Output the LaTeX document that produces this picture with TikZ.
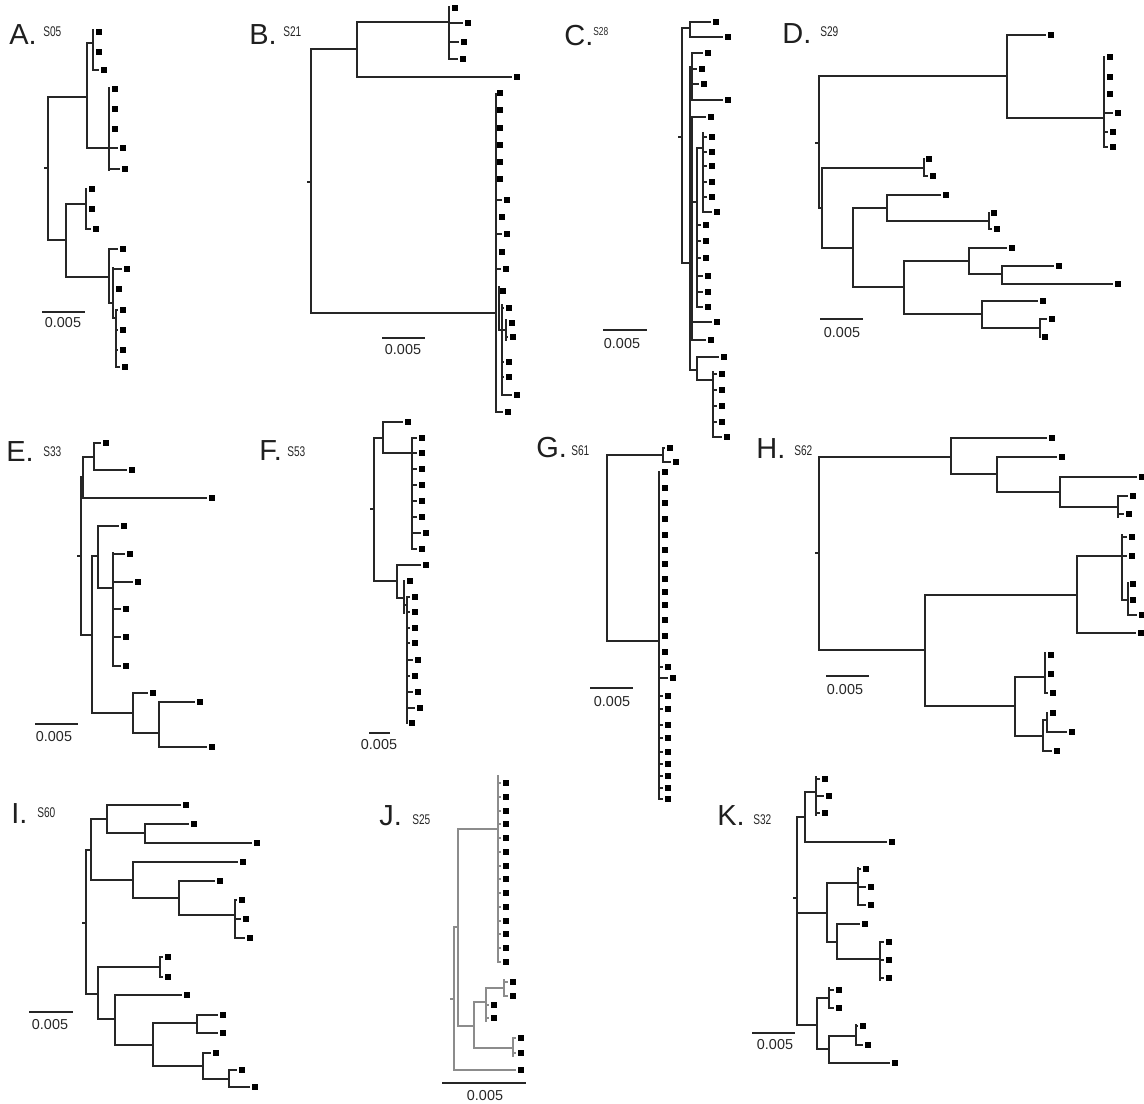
\documentclass[tikz,border=0pt]{standalone}
\usepackage{fontspec}
\setmainfont{Liberation Sans}
\usetikzlibrary{positioning}

% tree drawing helpers (picture units are pixels, y points down)
\newcommand{\cladebar}[3]{\draw[branch] (#1,#2) -- (#1,#3);}
\newcommand{\branchh}[3]{\draw[branch] (#1,#3) -- (#2,#3);}
\newcommand{\leaftip}[3]{\draw[branch] (#1,#3) -- ({max(#1,#2-6)},#3); \node[leaf] at (#2,#3) {};}
\newcommand{\rootstub}[2]{\draw[branch] (#1-3,#2) -- (#1,#2);}

\begin{document}
\begin{tikzpicture}[
		x=0.02cm, y=-0.02cm,
		branch/.style={line width=0.8pt, black!85, line cap=rect},
		leaf/.style={fill=black, inner sep=0pt, minimum size=3.3pt},
		scalebar/.style={line width=0.8pt, black!85},
		scaletext/.style={font=\fontsize{8.2}{9}\selectfont, anchor=base, text=black!85},
		panel/.style={font=\fontsize{16.5}{18}\selectfont, anchor=base west, inner sep=0pt, text=black!88},
		sample/.style={font=\fontsize{8}{9}\selectfont, anchor=base west, inner sep=0pt, text=black!85},
		]
		\useasboundingbox (0,0) rectangle (1144,1104);
		
		% A. S05
		\node[panel] (labA) at (9,45) {A.};
		\node[sample] (smpA) at (43,37) {\scalebox{0.72}[1]{S05}};
		\rootstub{48}{168}
		\cladebar{48}{97}{240}
		\branchh{48}{87}{97}
		\cladebar{87}{43}{148}
		\branchh{87}{93}{43}
		\cladebar{93}{30}{70}
		\leaftip{93}{99}{32} \leaftip{93}{99}{52} \leaftip{93}{104}{70}
		\branchh{87}{109}{148}
		\cladebar{109}{88}{170}
		\leaftip{109}{115}{89} \leaftip{109}{115}{109} \leaftip{109}{115}{129}
		\leaftip{109}{123}{148} \leaftip{109}{125}{169}
		\branchh{48}{66}{240}
		\cladebar{66}{204}{277}
		\branchh{66}{86}{204}
		\cladebar{86}{189}{229}
		\leaftip{86}{92}{189} \leaftip{86}{92}{209} \leaftip{86}{96}{229}
		\branchh{66}{109}{277}
		\cladebar{109}{249}{303}
		\leaftip{109}{123}{249}
		\branchh{109}{113}{303}
		\cladebar{113}{268}{318}
		\leaftip{113}{127}{269} \leaftip{113}{119}{289}
		\branchh{113}{116}{318}
		\cladebar{116}{310}{367}
		\foreach \y in {310,330,350} {\leaftip{116}{123}{\y}}
		\leaftip{116}{125}{367}
		\draw[scalebar] (42,312) -- (85,312);
		\node[scaletext] at (63,328) {0.005};
		
		% B. S21
		\node[panel] (labB) at (249,45) {B.};
		\node[sample] (smpB) at (283,37) {\scalebox{0.72}[1]{S21}};
		\rootstub{311}{182}
		\cladebar{311}{49}{313}
		\branchh{311}{357}{49}
		\cladebar{357}{22}{77}
		\branchh{357}{449}{22}
		\cladebar{449}{7}{59}
		\leaftip{449}{455}{8} \leaftip{449}{468}{23} \leaftip{449}{464}{42} \leaftip{449}{463}{59}
		\leaftip{357}{517}{77}
		\branchh{311}{496}{313}
		\cladebar{496}{94}{412}
		\foreach \y in {93,110,128,145,162,179} {\leaftip{496}{500}{\y}}
		\leaftip{496}{507}{200} \leaftip{496}{502}{217} \leaftip{496}{507}{234}
		\leaftip{496}{502}{252} \leaftip{496}{506}{269}
		\cladebar{499}{287}{330}
		\leaftip{499}{503}{291}
		\branchh{499}{502}{330}
		\cladebar{502}{305}{395}
		\leaftip{502}{509}{308} \leaftip{502}{509}{362} \leaftip{502}{509}{377} \leaftip{502}{517}{395}
		\branchh{502}{506}{330}
		\cladebar{506}{320}{340}
		\leaftip{506}{512}{323} \leaftip{506}{513}{337}
		\leaftip{496}{508}{412}
		\draw[scalebar] (382,338) -- (425,338);
		\node[scaletext] at (403,355) {0.005};
		
		% C. S28
		\node[panel] (labC) at (564,46) {C.};
		\node[sample, font=\fontsize{6.6}{7}\selectfont] (smpC) at (593,36) {\scalebox{0.72}[1]{S28}};
		\rootstub{682}{137}
		\cladebar{682}{28}{263}
		\branchh{682}{690}{28}
		\cladebar{690}{22}{37}
		\leaftip{690}{716}{22} \leaftip{690}{728}{37}
		\branchh{682}{690}{263}
		\cladebar{690}{67}{370}
		\branchh{690}{692}{67}
		\cladebar{692}{53}{100}
		\leaftip{692}{708}{53} \leaftip{692}{702}{69} \leaftip{692}{704}{84} \leaftip{692}{728}{100}
		\cladebar{692}{117}{340}
		\leaftip{692}{711}{117}
		\branchh{692}{697}{202}
		\cladebar{697}{148}{307}
		\branchh{697}{703}{148}
		\cladebar{703}{133}{212}
		\foreach \y in {137,152,166,182,197} {\leaftip{703}{712}{\y}}
		\leaftip{703}{717}{212}
		\foreach \y in {225,241,258} {\leaftip{697}{706}{\y}}
		\foreach \y in {276,292,307} {\leaftip{697}{708}{\y}}
		\leaftip{692}{717}{322} \leaftip{692}{711}{340}
		\branchh{690}{697}{370}
		\cladebar{697}{357}{380}
		\leaftip{697}{724}{357}
		\branchh{697}{713}{380}
		\cladebar{713}{372}{437}
		\foreach \y in {374,390,406,422} {\leaftip{713}{722}{\y}}
		\leaftip{713}{727}{437}
		\draw[scalebar] (603,330) -- (647,330);
		\node[scaletext] at (622,349) {0.005};
		
		% D. S29
		\node[panel] (labD) at (782,44) {D.};
		\node[sample] (smpD) at (820,37) {\scalebox{0.72}[1]{S29}};
		\rootstub{819}{143}
		\cladebar{819}{76}{208}
		\branchh{819}{1007}{76}
		\cladebar{1007}{35}{118}
		\leaftip{1007}{1051}{35}
		\branchh{1007}{1104}{118}
		\cladebar{1104}{57}{147}
		\foreach \y in {57,77,94} {\leaftip{1104}{1110}{\y}}
		\leaftip{1104}{1118}{113} \leaftip{1104}{1113}{132} \leaftip{1104}{1113}{147}
		\branchh{819}{822}{208}
		\cladebar{822}{168}{248}
		\branchh{822}{924}{168}
		\cladebar{924}{159}{176}
		\leaftip{924}{929}{159} \leaftip{924}{933}{176}
		\branchh{822}{853}{248}
		\cladebar{853}{208}{287}
		\branchh{853}{887}{208}
		\cladebar{887}{195}{221}
		\leaftip{887}{946}{195}
		\branchh{887}{989}{221}
		\cladebar{989}{213}{229}
		\leaftip{989}{994}{213} \leaftip{989}{997}{229}
		\branchh{853}{904}{287}
		\cladebar{904}{261}{314}
		\branchh{904}{969}{261}
		\cladebar{969}{248}{274}
		\leaftip{969}{1012}{248}
		\branchh{969}{1002}{274}
		\cladebar{1002}{266}{284}
		\leaftip{1002}{1059}{266} \leaftip{1002}{1118}{284}
		\branchh{904}{982}{314}
		\cladebar{982}{301}{328}
		\leaftip{982}{1043}{301}
		\branchh{982}{1040}{328}
		\cladebar{1040}{319}{337}
		\leaftip{1040}{1052}{319} \leaftip{1040}{1045}{337}
		\draw[scalebar] (820,319) -- (863,319);
		\node[scaletext] at (842,338) {0.005};
		
		% E. S33
		\node[panel] (labE) at (6,462) {E.};
		\node[sample] (smpE) at (43,457) {\scalebox{0.72}[1]{S33}};
		\rootstub{81}{556}
		\cladebar{81}{477}{635}
		\branchh{81}{83}{477}
		\cladebar{83}{457}{498}
		\branchh{83}{94}{457}
		\cladebar{94}{443}{470}
		\leaftip{94}{106}{443} \leaftip{94}{132}{470}
		\leaftip{83}{212}{498}
		\branchh{81}{92}{635}
		\cladebar{92}{556}{713}
		\branchh{92}{98}{556}
		\cladebar{98}{526}{588}
		\leaftip{98}{124}{526}
		\branchh{98}{113}{588}
		\cladebar{113}{553}{666}
		\leaftip{113}{130}{554} \leaftip{113}{138}{582}
		\foreach \y in {609,637,666} {\leaftip{113}{126}{\y}}
		\branchh{92}{133}{713}
		\cladebar{133}{693}{733}
		\leaftip{133}{153}{693}
		\branchh{133}{159}{733}
		\cladebar{159}{702}{747}
		\leaftip{159}{200}{702} \leaftip{159}{212}{747}
		\draw[scalebar] (35,724) -- (78,724);
		\node[scaletext] at (54,742) {0.005};
		
		% F. S53
		\node[panel] (labF) at (259,461) {F.};
		\node[sample] (smpF) at (287,457) {\scalebox{0.72}[1]{S53}};
		\rootstub{374}{509}
		\cladebar{374}{438}{581}
		\branchh{374}{383}{438}
		\cladebar{383}{422}{453}
		\leaftip{383}{408}{422}
		\branchh{383}{412}{453}
		\cladebar{412}{438}{549}
		\foreach \y in {438,453,469,485,501,517} {\leaftip{412}{422}{\y}}
		\leaftip{412}{426}{533} \leaftip{412}{422}{549}
		\branchh{374}{397}{581}
		\cladebar{397}{565}{598}
		\leaftip{397}{426}{565}
		\branchh{397}{404}{598}
		\cladebar{404}{581}{613}
		\leaftip{404}{410}{581}
		\branchh{404}{407}{605}
		\cladebar{407}{597}{723}
		\foreach \y/\x in {597/415,612/415,628/415,643/415,660/418,676/415,692/418,708/420,723/412}
			{\leaftip{407}{\x}{\y}}
		\draw[scalebar] (369,733) -- (390,733);
		\node[scaletext] at (379,750) {0.005};
		
		% G. S61
		\node[panel] (labG) at (536,458) {G.};
		\node[sample] (smpG) at (571,456) {\scalebox{0.72}[1]{S61}};
		\cladebar{607}{455}{641}
		\branchh{607}{663}{455}
		\cladebar{663}{448}{462}
		\leaftip{663}{670}{448} \leaftip{663}{676}{462}
		\branchh{607}{659}{641}
		\cladebar{659}{472}{799}
		\foreach \y in {472,488,503,519,535,550,564,579,592,605,620,636,652} {\leaftip{659}{665}{\y}}
		\leaftip{659}{668}{667} \leaftip{659}{673}{678}
		\foreach \y in {696,709,725,738,752,764,776,788,799} {\leaftip{659}{668}{\y}}
		\draw[scalebar] (590,688) -- (633,688);
		\node[scaletext] at (612,707) {0.005};
		
		% H. S62
		\node[panel] (labH) at (756,459) {H.};
		\node[sample] (smpH) at (794,456) {\scalebox{0.72}[1]{S62}};
		\rootstub{819}{553}
		\cladebar{819}{457}{650}
		\branchh{819}{951}{457}
		\cladebar{951}{438}{474}
		\leaftip{951}{1052}{438}
		\branchh{951}{997}{474}
		\cladebar{997}{457}{492}
		\leaftip{997}{1062}{457}
		\branchh{997}{1060}{492}
		\cladebar{1060}{477}{507}
		\leaftip{1060}{1142}{477}
		\branchh{1060}{1118}{507}
		\cladebar{1118}{496}{517}
		\leaftip{1118}{1133}{496} \leaftip{1118}{1129}{514}
		\branchh{819}{925}{650}
		\cladebar{925}{595}{706}
		\branchh{925}{1077}{595}
		\cladebar{1077}{556}{633}
		\branchh{1077}{1122}{556}
		\cladebar{1122}{535}{600}
		\leaftip{1122}{1132}{537} \leaftip{1122}{1132}{556}
		\branchh{1122}{1128}{600}
		\cladebar{1128}{583}{615}
		\leaftip{1128}{1133}{584} \leaftip{1128}{1133}{600} \leaftip{1128}{1142}{615}
		\leaftip{1077}{1141}{633}
		\branchh{925}{1015}{706}
		\cladebar{1015}{677}{736}
		\branchh{1015}{1045}{677}
		\cladebar{1045}{653}{693}
		\leaftip{1045}{1051}{655} \leaftip{1045}{1051}{674} \leaftip{1045}{1053}{693}
		\branchh{1015}{1043}{736}
		\cladebar{1043}{720}{751}
		\branchh{1043}{1047}{720}
		\cladebar{1047}{713}{732}
		\leaftip{1047}{1053}{713} \leaftip{1047}{1072}{732}
		\leaftip{1043}{1057}{751}
		\draw[scalebar] (826,676) -- (869,676);
		\node[scaletext] at (845,695) {0.005};
		
		% I. S60
		\node[panel] (labI) at (11,824) {I.};
		\node[sample] (smpI) at (37,818) {\scalebox{0.72}[1]{S60}};
		\rootstub{86}{923}
		\cladebar{86}{850}{994}
		\branchh{86}{91}{850}
		\cladebar{91}{819}{880}
		\branchh{91}{107}{819}
		\cladebar{107}{805}{833}
		\leaftip{107}{186}{805}
		\branchh{107}{145}{833}
		\cladebar{145}{824}{843}
		\leaftip{145}{194}{824} \leaftip{145}{257}{843}
		\branchh{91}{133}{880}
		\cladebar{133}{862}{898}
		\leaftip{133}{243}{862}
		\branchh{133}{179}{898}
		\cladebar{179}{881}{915}
		\leaftip{179}{220}{881}
		\branchh{179}{235}{915}
		\cladebar{235}{900}{938}
		\leaftip{235}{242}{900} \leaftip{235}{246}{919} \leaftip{235}{250}{938}
		\branchh{86}{98}{994}
		\cladebar{98}{967}{1019}
		\branchh{98}{160}{967}
		\cladebar{160}{957}{977}
		\leaftip{160}{168}{957} \leaftip{160}{168}{977}
		\branchh{98}{115}{1019}
		\cladebar{115}{995}{1045}
		\leaftip{115}{187}{995}
		\branchh{115}{153}{1045}
		\cladebar{153}{1023}{1066}
		\branchh{153}{197}{1023}
		\cladebar{197}{1015}{1033}
		\leaftip{197}{223}{1015} \leaftip{197}{223}{1033}
		\branchh{153}{203}{1066}
		\cladebar{203}{1053}{1079}
		\leaftip{203}{216}{1053}
		\branchh{203}{229}{1079}
		\cladebar{229}{1070}{1087}
		\leaftip{229}{242}{1070} \leaftip{229}{255}{1087}
		\draw[scalebar] (29,1012) -- (73,1012);
		\node[scaletext] at (50,1030) {0.005};
		
		% J. S25 (grey branches)
		\node[panel] (labJ) at (379,826) {J.};
		\node[sample] (smpJ) at (412,825) {\scalebox{0.72}[1]{S25}};
		\begin{scope}[branch/.append style={black!45, line width=0.6pt}]
			\rootstub{454}{999}
			\cladebar{454}{927}{1070}
			\branchh{454}{458}{927}
			\cladebar{458}{829}{1026}
			\branchh{458}{498}{829}
			\cladebar{498}{776}{962}
			\foreach \y in {783,797,811,824,838,852,866,879,893,907,921,934,948,962} {\leaftip{498}{506}{\y}}
			\branchh{458}{474}{1026}
			\cladebar{474}{1002}{1048}
			\branchh{474}{486}{1002}
			\cladebar{486}{988}{1021}
			\branchh{486}{504}{988}
			\cladebar{504}{980}{996}
			\leaftip{504}{513}{982} \leaftip{504}{513}{996}
			\leaftip{486}{494}{1005} \leaftip{486}{494}{1018}
			\branchh{474}{513}{1048}
			\cladebar{513}{1038}{1056}
			\leaftip{513}{521}{1038} \leaftip{513}{521}{1053}
			\leaftip{454}{521}{1070}
		\end{scope}
		\draw[scalebar] (442,1083) -- (526,1083);
		\node[scaletext] at (485,1100) {0.005};
		
		% K. S32
		\node[panel] (labK) at (717,826) {K.};
		\node[sample] (smpK) at (753,825) {\scalebox{0.72}[1]{S32}};
		\rootstub{797}{898}
		\cladebar{797}{817}{1025}
		\draw[branch, line width=1.5pt] (797,912) -- (797,981);
		\branchh{797}{805}{817}
		\cladebar{805}{792}{842}
		\branchh{805}{816}{792}
		\cladebar{816}{777}{815}
		\leaftip{816}{825}{779} \leaftip{816}{829}{796} \leaftip{816}{825}{813}
		\leaftip{805}{892}{842}
		\branchh{797}{827}{913}
		\cladebar{827}{883}{942}
		\branchh{827}{858}{883}
		\cladebar{858}{868}{905}
		\leaftip{858}{866}{869} \leaftip{858}{871}{887} \leaftip{858}{871}{905}
		\branchh{827}{837}{942}
		\cladebar{837}{924}{959}
		\leaftip{837}{865}{924}
		\branchh{837}{880}{959}
		\cladebar{880}{942}{980}
		\foreach \y in {942,960,978} {\leaftip{880}{889}{\y}}
		\branchh{797}{817}{1025}
		\cladebar{817}{998}{1049}
		\branchh{817}{829}{998}
		\cladebar{829}{988}{1008}
		\leaftip{829}{839}{990} \leaftip{829}{839}{1008}
		\branchh{817}{829}{1049}
		\cladebar{829}{1036}{1063}
		\branchh{829}{856}{1036}
		\cladebar{856}{1025}{1045}
		\leaftip{856}{863}{1026} \leaftip{856}{868}{1045}
		\leaftip{829}{895}{1063}
		\draw[scalebar] (752,1033) -- (795,1033);
		\node[scaletext] at (775,1050) {0.005};
	\end{tikzpicture}
\end{document}
